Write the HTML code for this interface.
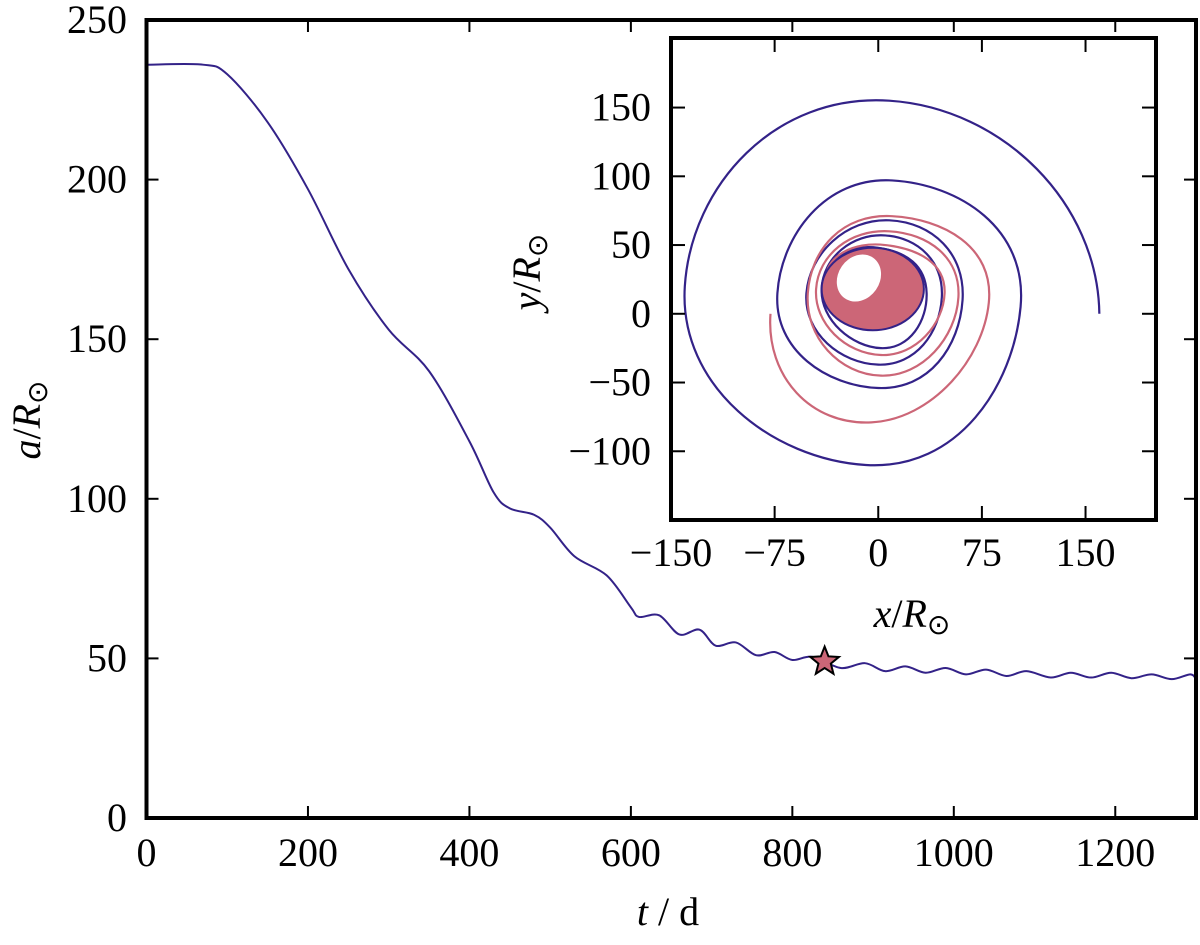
<!DOCTYPE html>
<html><head><meta charset="utf-8"><style>
html,body{margin:0;padding:0;background:#fff}
svg text{font-family:"Liberation Serif",serif;fill:#000}
</style></head><body>
<svg id="c" width="1200" height="940" viewBox="0 0 1200 940" xmlns="http://www.w3.org/2000/svg"></svg>
<script>
// ---- main chart data ----
const tVals=[0,70,100,150,200,250,300,350,400,430,450,480,500,530,570,600,610,635,660,685,705,730,755,778,800,825,860,890,915,940,965,990,1015,1040,1065,1090,1120,1145,1170,1195,1220,1245,1270,1293,1300];
const aVals=[236,236,233,218,197,172,153,140,118,102,97,95,91,82,76,66,63,63.5,57.5,59,54,55,51,52,49.5,50.5,47,48.5,46,47.5,45.5,47,45,46.5,44.5,46,44,45.5,44,45.5,43.8,45,43.5,45,43.5];
const starT=[840], starA=[49];
const xTicks=[0,200,400,600,800,1000,1200];
const yTicks=[0,50,100,150,200,250];
// ---- inset data ----
const blueX=[160,8,-140,-9,103,10,-73,0,61,8,-52,0,46,5,-41,2,35,0,-38];
const blueY=[0,155,20,-110,5,97,15,-54,10,68,15,-37,12,57,18,-25,15,48,25];
const pinkX=[-78,-5,80,10,-51,2,58,8,-45,2,48,5,-38];
const pinkY=[0,-79,8,71,15,-45,12,60,18,-30,15,50,25];
const blobOuter=[-4,18,37,30]; // cx, cy, rx, ry
const blobInner=[-14,26,15,18];
const ixTicks=[-150,-75,0,75,150];
const iyTicks=[-100,-50,0,50,100,150];

const NS="http://www.w3.org/2000/svg", svg=document.getElementById('c');
function el(tag,at,parent){const e=document.createElementNS(NS,tag);for(const k in at)e.setAttribute(k,at[k]);(parent||svg).appendChild(e);return e;}

const L=146.5,R=1196,T=20,B=818;
const X=t=>L+(t-0)/1300*(R-L);
const Y=a=>B-(a/250)*(B-T);
function line(x1,y1,x2,y2,w,name){const e=el('line',{x1,y1,x2,y2,stroke:'#000','stroke-width':w});return e;}
xTicks.forEach(t=>{
  line(X(t),B,X(t),B-12,2,'x-tick');line(X(t),T,X(t),T+12,2,'x-tick-top');
  const tx=el('text',{x:X(t),y:866,'font-size':40,'text-anchor':'middle'});tx.textContent=t;
  
});
yTicks.forEach(a=>{
  line(L,Y(a),L+12,Y(a),2,'y-tick');line(R,Y(a),R-12,Y(a),2,'y-tick-right');
  const tx=el('text',{x:127,y:Y(a)+13,'font-size':40,'text-anchor':'end'});tx.textContent=a;
  
});
function smooth(pts,k,spiral){
  const P=pts.slice();
  if(spiral&&P.length>2){const n=P.length;
    P.unshift([P[0][0]+P[2][0]-P[1][0],P[0][1]+P[2][1]-P[1][1]]);
    P.push([P[n][0]+P[n-2][0]-P[n-1][0],P[n][1]+P[n-2][1]-P[n-1][1]]);
  }else{P.unshift(P[0]);P.push(P[P.length-1]);}
  let d=`M${P[1][0]},${P[1][1]}`;
  for(let i=1;i<P.length-2;i++){const p0=P[i-1],p1=P[i],p2=P[i+1],p3=P[i+2];
    d+=` C${p1[0]+(p2[0]-p0[0])*k},${p1[1]+(p2[1]-p0[1])*k} ${p2[0]-(p3[0]-p1[0])*k},${p2[1]-(p3[1]-p1[1])*k} ${p2[0]},${p2[1]}`;}
  return d;}
const mp=el('path',{d:smooth(tVals.map((t,i)=>[X(t),Y(aVals[i])]),1/6,false),fill:'none',stroke:'#332288','stroke-width':2});

function starPath(cx,cy,r1,r2){let d='';for(let i=0;i<10;i++){const r=i%2?r2:r1,an=-Math.PI/2+i*Math.PI/5;d+=(i?'L':'M')+(cx+r*Math.cos(an))+','+(cy+r*Math.sin(an));}return d+'Z';}
starT.forEach((t,i)=>{const s=el('path',{d:starPath(X(t),Y(starA[i]),15,6.5),fill:'#cc6677',stroke:'#000','stroke-width':2});
});
const fr=el('rect',{x:L,y:T,width:R-L,height:B-T,fill:'none',stroke:'#000','stroke-width':4});

const yl=el('text',{x:40,y:420,'font-size':40,'text-anchor':'middle',transform:'rotate(-90 40 420)'});
yl.innerHTML='<tspan font-style="italic">a</tspan>/<tspan font-style="italic">R</tspan><tspan font-size="28" dy="7">⊙</tspan>';

const xl=el('text',{x:668,y:925,'font-size':40,'text-anchor':'middle'});
xl.innerHTML='<tspan font-style="italic">t</tspan> / d';


// inset
const g=el('g',{});
const IL=671,IR=1156,IT=38,IB=520;
const IX=x=>IL+(x+150)*(IR-IL)/351;
const IY=y=>IB-(y+150)*(IB-IT)/350.6;
el('rect',{x:IL,y:IT,width:IR-IL,height:IB-IT,fill:'#fff'},g);
const cp=el('clipPath',{id:'ic'},g);el('rect',{x:IL,y:IT,width:IR-IL,height:IB-IT},cp);
const pg=el('g',{'clip-path':'url(#ic)'},g);
const ob=el('path',{d:smooth(blueX.map((x,i)=>[IX(x),IY(blueY[i])]),0.276,true),fill:'none',stroke:'#332288','stroke-width':2.2},pg);

const op=el('path',{d:smooth(pinkX.map((x,i)=>[IX(x),IY(pinkY[i])]),0.276,true),fill:'none',stroke:'#cc6677','stroke-width':2.2},pg);

const sx=(IR-IL)/351, sy=(IB-IT)/350.6;
const bl=el('ellipse',{cx:IX(blobOuter[0]),cy:IY(blobOuter[1]),rx:blobOuter[2]*sx,ry:blobOuter[3]*sy,fill:'#cc6677',stroke:'#332288','stroke-width':2},pg);

const bi=el('ellipse',{cx:IX(blobInner[0]),cy:IY(blobInner[1]),rx:blobInner[2]*sx,ry:blobInner[3]*sy,fill:'#fff',transform:`rotate(35 ${IX(blobInner[0])} ${IY(blobInner[1])})`},pg);

ixTicks.forEach(x=>{
  const a=el('line',{x1:IX(x),y1:IB,x2:IX(x),y2:IB-14,stroke:'#000','stroke-width':2},g);
  const b=el('line',{x1:IX(x),y1:IT,x2:IX(x),y2:IT+14,stroke:'#000','stroke-width':2},g);
  const tx=el('text',{x:IX(x),y:566,'font-size':40,'text-anchor':'middle'},g);tx.textContent=(x<0?'\u2212'+(-x):x);
  
});
iyTicks.forEach(y=>{
  const a=el('line',{x1:IL,y1:IY(y),x2:IL+14,y2:IY(y),stroke:'#000','stroke-width':2},g);
  const b=el('line',{x1:IR,y1:IY(y),x2:IR-14,y2:IY(y),stroke:'#000','stroke-width':2},g);
  const tx=el('text',{x:651,y:IY(y)+13,'font-size':40,'text-anchor':'end'},g);tx.textContent=(y<0?'\u2212'+(-y):y);
  
});
const ifr=el('rect',{x:IL,y:IT,width:IR-IL,height:IB-IT,fill:'none',stroke:'#000','stroke-width':4},g);

const iyl=el('text',{x:540,y:272,'font-size':40,'text-anchor':'middle',transform:'rotate(-90 540 272)'},g);
iyl.innerHTML='<tspan font-style="italic">y</tspan>/<tspan font-style="italic">R</tspan><tspan font-size="28" dy="7">⊙</tspan>';

const ixl=el('text',{x:912,y:627,'font-size':40,'text-anchor':'middle'},g);
ixl.innerHTML='<tspan font-style="italic">x</tspan>/<tspan font-style="italic">R</tspan><tspan font-size="28" dy="7">⊙</tspan>';

</script>
</body></html>
